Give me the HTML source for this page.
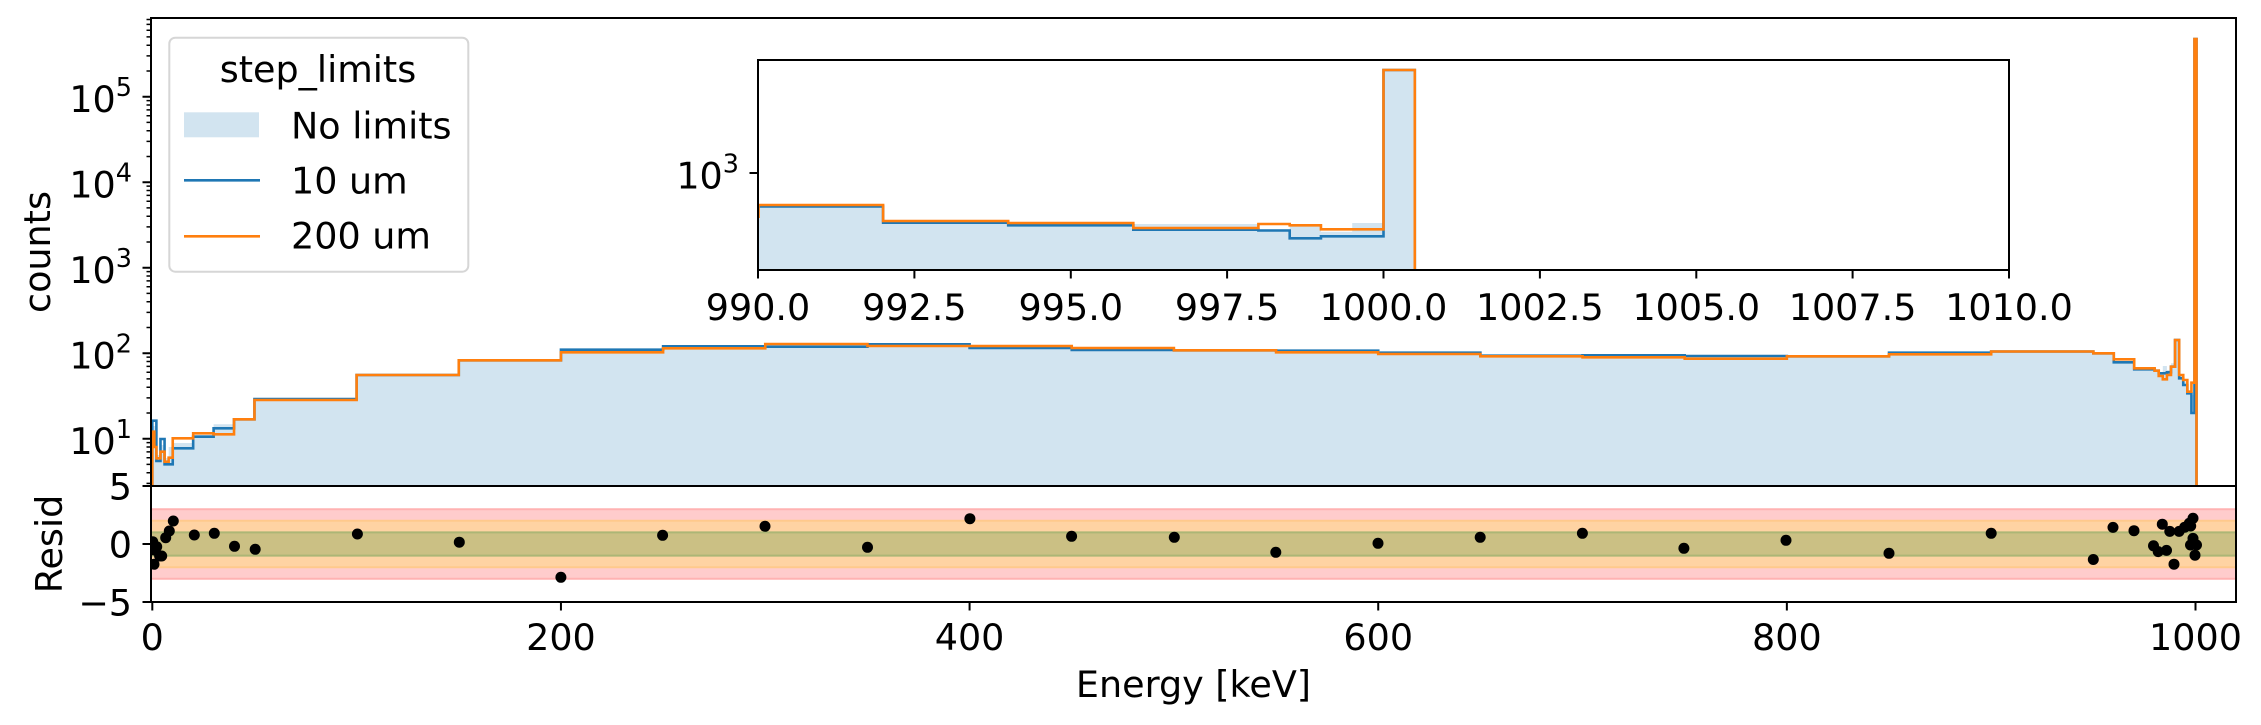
<!DOCTYPE html>
<html>
<head>
<meta charset="utf-8">
<style>
html,body{margin:0;padding:0;background:#fff;}
svg{display:block;}
text{font-family:"DejaVu Sans","Liberation Sans",sans-serif;fill:#000;}
</style>
</head>
<body>
<svg width="2261" height="725" viewBox="0 0 2261 725" xmlns="http://www.w3.org/2000/svg">
<defs>
<clipPath id="cmain"><rect x="151" y="18" width="2085" height="468"/></clipPath>
<clipPath id="cinset"><rect x="758" y="60" width="1251" height="210"/></clipPath>
<clipPath id="cres"><rect x="151" y="486" width="2085" height="116"/></clipPath>
</defs>
<rect x="0" y="0" width="2261" height="725" fill="#fff"/>

<g clip-path="url(#cmain)">
<path fill="#d2e4f0" d="M152.3,486 V426 H156.39 V455 H160.47 V445 H164.56 V458 H168.65 V447 H172.73 V443 H193.16 V435 H213.6 V424.3 H234.03 V419.3 H254.46 V400 H356.62 V375 H458.78 V360.3 H560.94 V351.5 H663.1 V347.5 H765.26 V345.5 H867.42 V345.5 H969.58 V347 H1071.74 V349 H1173.9 V350.3 H1276.06 V351.5 H1378.22 V353.5 H1480.38 V356 H1582.54 V356.5 H1684.7 V357.5 H1786.86 V356.3 H1889.02 V353.5 H1991.18 V351.5 H2093.34 V353.3 H2113.77 V361 H2134.2 V369 H2154.64 V371 H2158.72 V372 H2162.81 V366 H2166.9 V370 H2170.99 V363.3 H2175.07 V340 H2179.16 V376 H2183.24 V382 H2187.33 V392 H2191.42 V395 H2194.48 V39 H2196.52 V486 Z"/>
<path fill="none" stroke="#1f77b4" stroke-width="2.6" d="M152.3,486 V420.7 H156.39 V461 H160.47 V439 H164.56 V464.3 H172.73 V448.3 H193.16 V436.7 H213.6 V428.3 H234.03 V419.3 H254.46 V399 H356.62 V375 H458.78 V360.3 H560.94 V349.7 H663.1 V346.3 H765.26 V346.7 H867.42 V344.3 H969.58 V348 H1071.74 V350 H1173.9 V350.3 H1276.06 V350.7 H1378.22 V352.7 H1480.38 V355.7 H1582.54 V355.3 H1684.7 V356 H1786.86 V356.3 H1889.02 V352.7 H1991.18 V351.5 H2093.34 V353.3 H2113.77 V362.3 H2134.2 V369.3 H2154.64 V370.7 H2158.72 V373.3 H2166.9 V372.3 H2170.99 V366.7 H2175.07 V340 H2179.16 V378.3 H2183.24 V385 H2187.33 V393.3 H2191.42 V413 H2194.48 V39 H2196.52 V486"/>
<path fill="none" stroke="#ff7f0e" stroke-width="2.6" d="M152.3,486 V431.7 H154.34 V447 H156.39 V458.3 H160.47 V451.7 H164.56 V461.7 H168.65 V457.7 H172.73 V438.3 H193.16 V433.3 H213.6 V434.3 H234.03 V419.3 H254.46 V400 H356.62 V375 H458.78 V360.3 H560.94 V352.3 H663.1 V348.3 H765.26 V344 H867.42 V346 H969.58 V346 H1071.74 V348 H1173.9 V350.3 H1276.06 V352.3 H1378.22 V354 H1480.38 V356.3 H1582.54 V357.3 H1684.7 V358.7 H1786.86 V356.3 H1889.02 V354.3 H1991.18 V351.5 H2093.34 V353.3 H2113.77 V359.3 H2134.2 V368.3 H2154.64 V370.7 H2158.72 V376 H2162.81 V379.3 H2166.9 V375 H2170.99 V366.7 H2175.07 V340 H2179.16 V375 H2183.24 V380 H2187.33 V391.7 H2191.42 V382.7 H2194.48 V39 H2196.52 V486"/>
</g>

<path stroke="#000" stroke-width="2" fill="none" d="M142.5,438.7H151 M142.5,353.2H151 M142.5,267.7H151 M142.5,182.2H151 M142.5,96.7H151"/>
<path stroke="#000" stroke-width="1.5" fill="none" d="M146.5,483.4H151 M146.5,472.7H151 M146.5,464.4H151 M146.5,457.7H151 M146.5,451.9H151 M146.5,447H151 M146.5,442.6H151 M146.5,413H151 M146.5,397.9H151 M146.5,387.2H151 M146.5,378.9H151 M146.5,372.2H151 M146.5,366.4H151 M146.5,361.5H151 M146.5,357.1H151 M146.5,327.5H151 M146.5,312.4H151 M146.5,301.7H151 M146.5,293.4H151 M146.5,286.7H151 M146.5,280.9H151 M146.5,276H151 M146.5,271.6H151 M146.5,242H151 M146.5,226.9H151 M146.5,216.2H151 M146.5,207.9H151 M146.5,201.2H151 M146.5,195.4H151 M146.5,190.5H151 M146.5,186.1H151 M146.5,156.5H151 M146.5,141.4H151 M146.5,130.7H151 M146.5,122.4H151 M146.5,115.7H151 M146.5,109.9H151 M146.5,105H151 M146.5,100.6H151 M146.5,71H151 M146.5,55.9H151 M146.5,45.2H151 M146.5,36.9H151 M146.5,30.2H151 M146.5,24.4H151 M146.5,19.5H151"/>

<g font-size="36.5" text-anchor="end">
<text x="132" y="112.2">10<tspan font-size="25.5" dy="-16">5</tspan></text>
<text x="132" y="197.7">10<tspan font-size="25.5" dy="-16">4</tspan></text>
<text x="132" y="283.2">10<tspan font-size="25.5" dy="-16">3</tspan></text>
<text x="132" y="368.7">10<tspan font-size="25.5" dy="-16">2</tspan></text>
<text x="132" y="454.2">10<tspan font-size="25.5" dy="-16">1</tspan></text>
</g>

<rect x="151" y="18" width="2085" height="468" fill="none" stroke="#000" stroke-width="2"/>

<rect x="169.3" y="37.7" width="299" height="234" rx="6" ry="6" fill="#fff" fill-opacity="0.8" stroke="#d6d6d6" stroke-width="2"/>
<text x="318" y="82" font-size="36.5" text-anchor="middle">step_limits</text>
<rect x="184" y="112.3" width="75" height="25" fill="#d2e4f0"/>
<text x="291" y="138.5" font-size="36.5">No limits</text>
<line x1="184" y1="180.3" x2="260" y2="180.3" stroke="#1f77b4" stroke-width="2.6"/>
<text x="291" y="193.5" font-size="36.5">10 um</text>
<line x1="184" y1="236.3" x2="260" y2="236.3" stroke="#ff7f0e" stroke-width="2.6"/>
<text x="291" y="248.5" font-size="36.5">200 um</text>

<rect x="758" y="60" width="1251" height="210" fill="#fff"/>
<g clip-path="url(#cinset)">
<path fill="#d2e4f0" d="M758,271 V206 H883.1 V222 H1008.2 V224 H1133.3 V224 H1258.4 V229.3 H1289.7 V225.5 H1320.95 V231.7 H1352.2 V223 H1383.5 V70 H1414.8 V271 Z"/>
<path fill="none" stroke="#1f77b4" stroke-width="2.6" d="M756,206.5 H883.1 V222.7 H1008.2 V225.3 H1133.3 V229.7 H1258.4 V230.5 H1289.7 V238.3 H1320.95 V236.3 H1383.5 V70 H1414.8 V272"/>
<path fill="none" stroke="#ff7f0e" stroke-width="2.6" d="M758.5,218 V205 H883.1 V221 H1008.2 V223 H1133.3 V228 H1258.4 V224 H1289.7 V225.3 H1320.95 V229.3 H1383.5 V70 H1414.8 V272"/>
</g>
<rect x="758" y="60" width="1251" height="210" fill="none" stroke="#000" stroke-width="2"/>
<path stroke="#000" stroke-width="2" fill="none" d="M749.5,173H758 M758,270V278.5 M914.4,270V278.5 M1070.8,270V278.5 M1227.1,270V278.5 M1383.5,270V278.5 M1539.9,270V278.5 M1696.3,270V278.5 M1852.6,270V278.5 M2009,270V278.5"/>
<text x="739" y="188.7" font-size="36.5" text-anchor="end">10<tspan font-size="25.5" dy="-16">3</tspan></text>
<g font-size="36.5" text-anchor="middle">
<text x="758" y="320">990.0</text>
<text x="914.4" y="320">992.5</text>
<text x="1070.8" y="320">995.0</text>
<text x="1227.1" y="320">997.5</text>
<text x="1383.5" y="320">1000.0</text>
<text x="1539.9" y="320">1002.5</text>
<text x="1696.3" y="320">1005.0</text>
<text x="1852.6" y="320">1007.5</text>
<text x="2009" y="320">1010.0</text>
</g>

<g clip-path="url(#cres)">
<rect x="151" y="509.2" width="2085" height="69.6" fill="#ffcccc"/>
<rect x="151" y="520.8" width="2085" height="46.4" fill="#ffd3a3"/>
<rect x="151" y="532.4" width="2085" height="23.2" fill="#cbc084"/>
<path stroke="#ffb2b2" stroke-width="2" fill="none" d="M151,509.2H2236 M151,578.8H2236"/>
<path stroke="#ffc98c" stroke-width="2" fill="none" d="M151,520.8H2236 M151,567.2H2236"/>
<path stroke="#acb676" stroke-width="2" fill="none" d="M151,532.4H2236 M151,555.6H2236"/>
<g fill="#000">
<circle cx="152.7" cy="541.7" r="5.5"/>
<circle cx="154" cy="550" r="5.5"/>
<circle cx="154" cy="564.3" r="5.5"/>
<circle cx="156.7" cy="546.7" r="5.5"/>
<circle cx="159.6" cy="556" r="5.5"/>
<circle cx="161.7" cy="556" r="5.5"/>
<circle cx="165.7" cy="537.7" r="5.5"/>
<circle cx="169.3" cy="531" r="5.5"/>
<circle cx="173.3" cy="521" r="5.5"/>
<circle cx="194.3" cy="535" r="5.5"/>
<circle cx="214.3" cy="533.3" r="5.5"/>
<circle cx="234.5" cy="546.3" r="5.5"/>
<circle cx="255.2" cy="549.3" r="5.5"/>
<circle cx="357.4" cy="534" r="5.5"/>
<circle cx="459.3" cy="542.2" r="5.5"/>
<circle cx="560.9" cy="577.3" r="5.5"/>
<circle cx="662.6" cy="535.3" r="5.5"/>
<circle cx="765" cy="526.3" r="5.5"/>
<circle cx="867.5" cy="547.3" r="5.5"/>
<circle cx="969.9" cy="518.7" r="5.5"/>
<circle cx="1071.6" cy="536.3" r="5.5"/>
<circle cx="1174.3" cy="537.3" r="5.5"/>
<circle cx="1275.8" cy="552.3" r="5.5"/>
<circle cx="1378" cy="543.3" r="5.5"/>
<circle cx="1480.2" cy="537.3" r="5.5"/>
<circle cx="1582.4" cy="533.3" r="5.5"/>
<circle cx="1683.9" cy="548.3" r="5.5"/>
<circle cx="1786" cy="540.3" r="5.5"/>
<circle cx="1889" cy="553.3" r="5.5"/>
<circle cx="1991.2" cy="533.3" r="5.5"/>
<circle cx="2093.3" cy="559.5" r="5.5"/>
<circle cx="2113" cy="527.4" r="5.5"/>
<circle cx="2134" cy="530.7" r="5.5"/>
<circle cx="2153.5" cy="545.8" r="5.5"/>
<circle cx="2158.2" cy="551.6" r="5.5"/>
<circle cx="2162.3" cy="524.2" r="5.5"/>
<circle cx="2166.5" cy="550.4" r="5.5"/>
<circle cx="2169.8" cy="531.4" r="5.5"/>
<circle cx="2174" cy="564.2" r="5.5"/>
<circle cx="2179.1" cy="531.4" r="5.5"/>
<circle cx="2184.7" cy="527.2" r="5.5"/>
<circle cx="2189.3" cy="523.3" r="5.5"/>
<circle cx="2190.5" cy="545" r="5.5"/>
<circle cx="2190.7" cy="526" r="5.5"/>
<circle cx="2193" cy="518.3" r="5.5"/>
<circle cx="2193" cy="538.4" r="5.5"/>
<circle cx="2195.5" cy="544.5" r="5.5"/>
<circle cx="2196.5" cy="545" r="5.5"/>
<circle cx="2195" cy="555.2" r="5.5"/>
</g>
</g>
<rect x="151" y="486" width="2085" height="116" fill="none" stroke="#000" stroke-width="2"/>
<path stroke="#000" stroke-width="2" fill="none" d="M142.5,486H151 M142.5,544H151 M142.5,602H151 M152.3,602V610.5 M560.94,602V610.5 M969.58,602V610.5 M1378.22,602V610.5 M1786.86,602V610.5 M2195.5,602V610.5"/>
<g font-size="36.5" text-anchor="end">
<text x="132" y="499.3">5</text>
<text x="132" y="557.3">0</text>
<text x="132" y="615.3">−5</text>
</g>
<g font-size="36.5" text-anchor="middle">
<text x="152.3" y="650">0</text>
<text x="560.94" y="650">200</text>
<text x="969.58" y="650">400</text>
<text x="1378.22" y="650">600</text>
<text x="1786.86" y="650">800</text>
<text x="2195.5" y="650">1000</text>
</g>

<text x="1193.5" y="697" font-size="36.5" text-anchor="middle">Energy [keV]</text>
<text transform="translate(50,252) rotate(-90)" font-size="36.5" text-anchor="middle">counts</text>
<text transform="translate(62,544) rotate(-90)" font-size="36.5" text-anchor="middle">Resid</text>
</svg>
</body>
</html>
